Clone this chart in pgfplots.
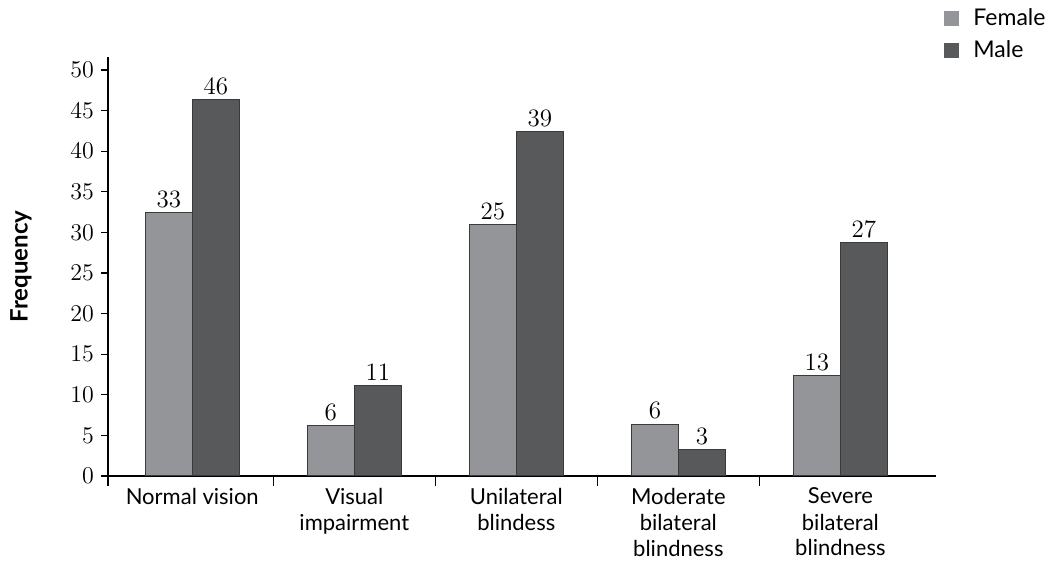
\documentclass[border=0pt]{standalone}
\usepackage{fontspec}
\setsansfont{Lato}
\usepackage{pgfplots}
\pgfplotsset{compat=1.18}
\usepackage{pgfplotstable}

\definecolor{female}{HTML}{939598}
\definecolor{male}{HTML}{58595B}
\definecolor{edge}{HTML}{3A3A3A}

% x = category, y = bar height, lab = printed count
\pgfplotstableread{
x y lab
0 32.5 33
1 6.2 6
2 31.0 25
3 6.4 6
4 12.4 13
}\femaledata
\pgfplotstableread{
x y lab
0 46.4 46
1 11.2 11
2 42.4 39
3 3.3 3
4 28.7 27
}\maledata

\begin{document}
\begin{tikzpicture}
\begin{axis}[
    at={(0,0)}, anchor=south west,
    scale only axis,
    width=414pt, height=209.5pt,
    xmin=-0.52, xmax=4.59,
    ymin=0, ymax=51.6,
    ybar=0pt, bar width=23.5pt,
    axis x line*=bottom, axis y line*=left,
    axis line style={-, black, line width=0.6pt},
    xtick={0,...,4},
    xticklabels={Normal vision, Visual\\impairment, Unilateral\\blindess, Moderate\\bilateral\\blindness, Severe\\bilateral\\blindness},
    xticklabel style={font=\sffamily\fontsize{11}{13}\selectfont, align=center, anchor=north, yshift=1pt},
    major x tick style={draw=none},
    minor xtick={-0.52,0.5,1.5,2.5,3.5},
    minor x tick style={black, line width=0.6pt},
    tick align=outside,
    minor tick length=5pt,
    ytick={0,5,...,50},
    major y tick style={black, line width=0.6pt},
    major tick length=3.5pt,
    yticklabel style={font=\fontsize{12.5}{14}\selectfont},
    ylabel={Frequency},
    ylabel style={font=\sffamily\bfseries\fontsize{12}{14}\selectfont, at={(axis description cs:-0.105,0.5)}, anchor=center},
    nodes near coords,
    point meta=explicit symbolic,
    every node near coord/.append style={font=\fontsize{12.5}{14}\selectfont, black, inner sep=2pt},
    legend style={at={(axis description cs:1,1)}, anchor=north west, xshift=4pt, yshift=25.5pt,
        draw=none, fill=none, inner sep=0pt, row sep=3.5pt,
        font=\sffamily\fontsize{11.5}{13}\selectfont,
        nodes={inner sep=1pt, text height=8.5pt, text depth=2pt}},
    legend image code/.code={\fill[#1,draw=none] (0pt,-3.75pt) rectangle (7.5pt,3.75pt);},
    legend cell align=left,
    legend style={/tikz/every odd column/.append style={column sep=6pt}},
]
\addplot[fill=female, draw=edge, line width=0.5pt] table[x=x, y=y, meta=lab] {\femaledata};
\addlegendentry{Female}
\addplot[fill=male, draw=edge, line width=0.5pt] table[x=x, y=y, meta=lab] {\maledata};
\addlegendentry{Male}
\end{axis}
\pgfresetboundingbox
\path[use as bounding box] (-54pt,-44.5pt) rectangle (470pt,238pt);
\end{tikzpicture}
\end{document}
